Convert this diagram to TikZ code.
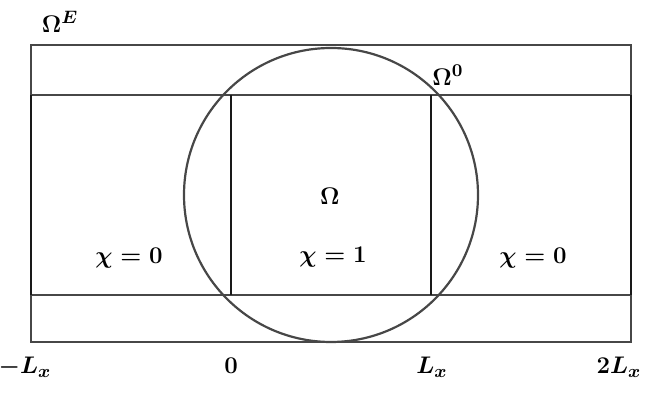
\documentclass[tikz,border=0pt]{standalone}
\begin{document}
\begin{tikzpicture}[x=0.5pt,y=-0.5pt,
  frame/.style={draw=black!72,line width=1.1pt},
  wall/.style={draw=black!90,line width=1.3pt},
  lbl/.style={inner sep=0pt,font=\fontsize{12.4}{14}\selectfont\boldmath}]
\useasboundingbox (0,0) rectangle (661,405);
% outer box and strips
\draw[frame] (31,45) rectangle (631,342);
\draw[frame] (31,95) -- (631,95);
\draw[frame] (31,295) -- (631,295);
% vertical walls
\foreach \x in {31,231,431,631} \draw[wall] (\x,95) -- (\x,295);
% circle
\draw[frame] (331,195) circle [radius=147];
% labels
\node[lbl] (oe) at (60,22) {$\Omega^{E}$};
\node[lbl] (oz) at (448,75) {$\Omega^{0}$};
\node[lbl] (om) at (330,196) {$\Omega$};
\node[lbl] (c0l) at (129,258) {$\chi=0$};
\node[lbl] (c1) at (333,257) {$\chi=1$};
\node[lbl] (c0r) at (533,258) {$\chi=0$};
\node[lbl] (a1) at (25,367) {$-L_x$};
\node[lbl] (a2) at (231,366) {$0$};
\node[lbl] (a3) at (432,367) {$L_x$};
\node[lbl] (a4) at (619,367) {$2L_x$};
\end{tikzpicture}
\end{document}
